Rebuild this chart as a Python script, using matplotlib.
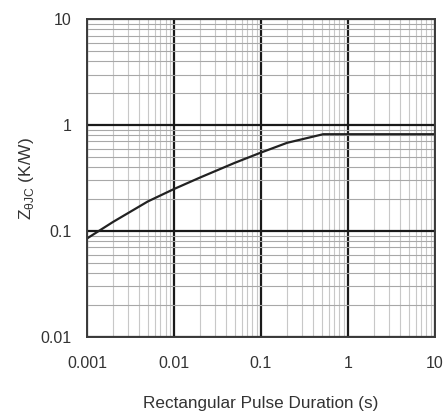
import matplotlib
matplotlib.use("Agg")
import matplotlib.pyplot as plt
from matplotlib.ticker import LogLocator, FixedLocator, FixedFormatter, NullFormatter

plt.rcParams["font.family"] = ["Liberation Sans", "DejaVu Sans"]
plt.rcParams["mathtext.fontset"] = "custom"
plt.rcParams["mathtext.rm"] = "Liberation Sans"

# Transient thermal impedance vs. pulse duration
pulse_s = [0.001, 0.002, 0.005, 0.01, 0.02, 0.05, 0.1, 0.2, 0.52, 10]
z_thjc = [0.085, 0.122, 0.19, 0.249, 0.32, 0.44, 0.55, 0.68, 0.82, 0.82]

x_ticks = [0.001, 0.01, 0.1, 1, 10]
x_labels = ["0.001", "0.01", "0.1", "1", "10"]
y_ticks = [0.01, 0.1, 1, 10]
y_labels = ["0.01", "0.1", "1", "10"]

fig = plt.figure(figsize=(4.46, 4.16), dpi=100)
ax = fig.add_axes([0.195, 0.19, 0.78, 0.764])

ax.set_xscale("log")
ax.set_yscale("log")
ax.set_xlim(0.001, 10)
ax.set_ylim(0.01, 10)

ax.xaxis.set_major_locator(FixedLocator(x_ticks))
ax.xaxis.set_major_formatter(FixedFormatter(x_labels))
ax.yaxis.set_major_locator(FixedLocator(y_ticks))
ax.yaxis.set_major_formatter(FixedFormatter(y_labels))
ax.xaxis.set_minor_locator(LogLocator(base=10, subs=range(2, 10), numticks=20))
ax.yaxis.set_minor_locator(LogLocator(base=10, subs=range(2, 10), numticks=20))
ax.xaxis.set_minor_formatter(NullFormatter())
ax.yaxis.set_minor_formatter(NullFormatter())

ax.grid(which="major", axis="both", color="#1a1a1a", linewidth=1.6)
ax.grid(which="minor", axis="x", color="#c8c8c8", linewidth=0.8)
ax.grid(which="minor", axis="y", color="#a8a8a8", linewidth=0.8)
ax.set_axisbelow(True)

for s in ax.spines.values():
    s.set_color("#3a3a3a")
    s.set_linewidth(1.4)

ax.tick_params(which="both", length=0, labelsize=11.5, labelcolor="#333333")
ax.tick_params(axis="x", pad=14)
ax.tick_params(axis="y", pad=11)

ax.plot(pulse_s, z_thjc, color="#222222", linewidth=1.6)

ax.set_xlabel("Rectangular Pulse Duration (s)", fontsize=12.3, color="#333333", labelpad=18)
ax.set_ylabel(r"Z$_{\mathrm{\theta JC}}$ (K/W)", fontsize=12.5, color="#333333", labelpad=3)

fig.savefig("out.png", dpi=100)
